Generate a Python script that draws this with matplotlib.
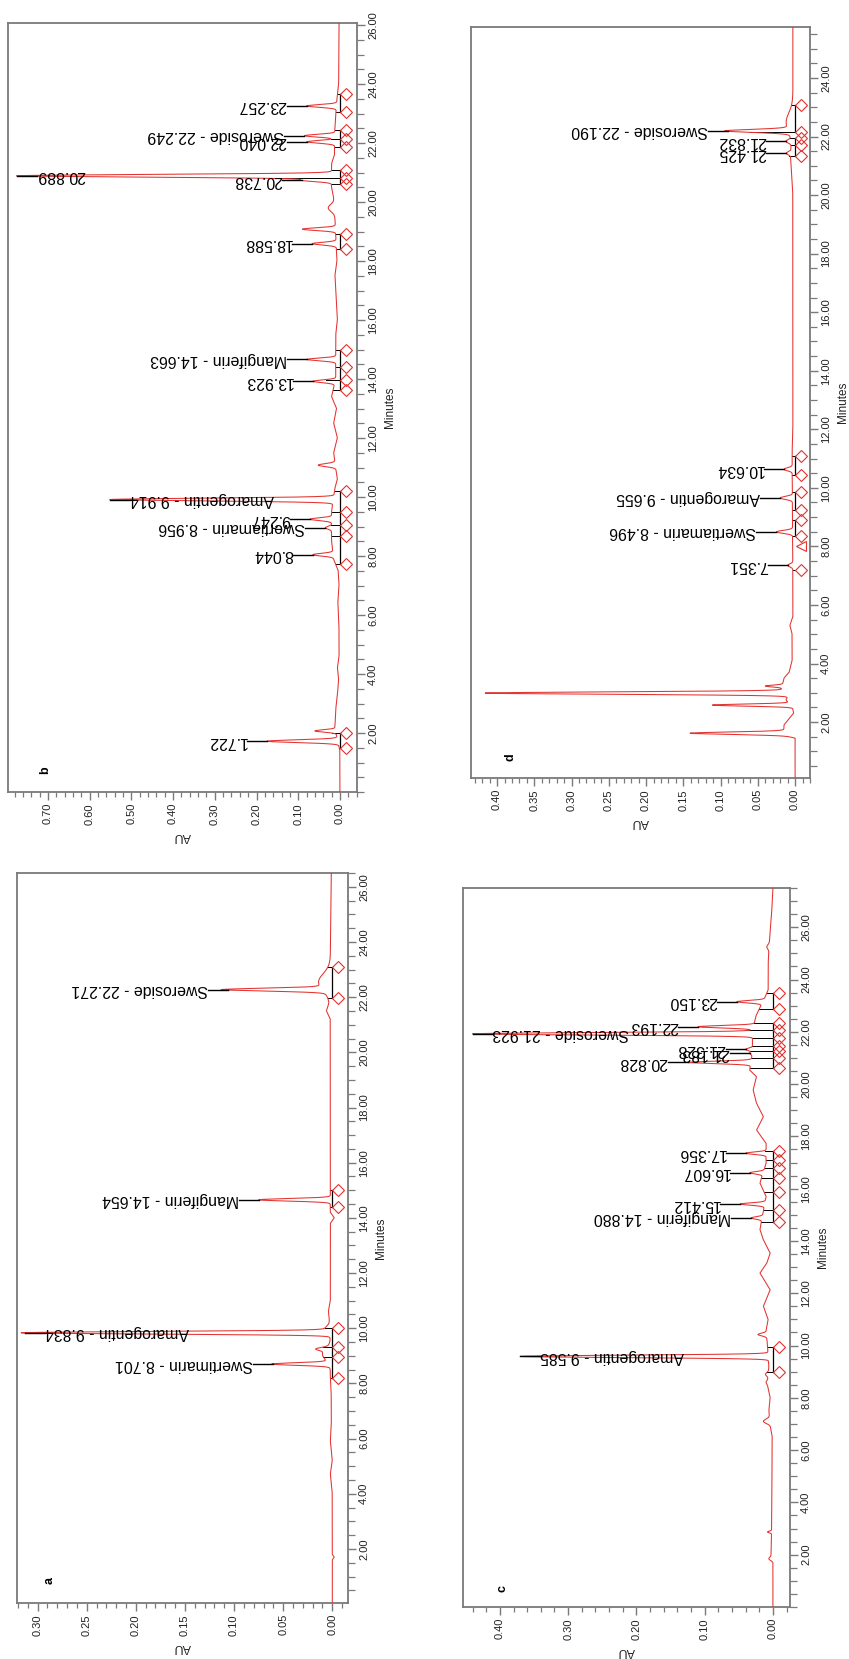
import numpy as np
import matplotlib
matplotlib.use("Agg")
import matplotlib.pyplot as plt
from matplotlib.ticker import MultipleLocator, FixedLocator, FormatStrFormatter
from matplotlib.transforms import ScaledTranslation

plt.rcParams['font.family'] = ['Liberation Sans', 'DejaVu Sans']

# ---------------------------------------------------------------- sample a
a_base_t = [0.0, 1.6, 1.7, 1.8, 4.0, 4.7, 5.2, 5.9, 6.5, 7.5, 8.2, 10.0, 10.6, 11.0,
            13.8, 14.0, 14.2, 21.2, 21.5, 21.8, 22.3, 23.5, 26.5]
a_base_au = [0.0, 0.0, -0.002, 0.0, 0.0, 0.002, 0.0, 0.002, 0.001, 0.001, 0.002, 0.002, 0.004, 0.002,
             0.002, -0.002, 0.002, 0.002, 0.006, 0.003, 0.003, 0.002, 0.001]
a_names = ["Swertimarin", "Amarogentin", "Mangiferin", "Sweroside"]
a_rt = [8.701, 9.834, 14.654, 22.271]
a_top = [0.060, 0.313, 0.075, 0.106]
a_wd = [0.045, 0.045, 0.045, 0.05]
a_extra_rt = [9.25, 9.05, 9.95, 22.55]
a_extra_top = [0.012, 0.010, 0.008, 0.014]
a_extra_wd = [0.05, 0.2, 0.12, 0.3]
a_marks = [[8.20, 8.96, 9.32, 10.00], [14.39, 15.00], [21.96, 23.09]]
a_ends = []

# ---------------------------------------------------------------- sample b
b_base_t = [0.0, 1.4, 2.2, 2.8, 3.3, 3.8, 4.2, 4.6, 5.5, 6.4, 7.0, 7.5, 7.9, 8.5, 9.5, 10.3,
            10.6, 11.5, 12.0, 12.5, 13.0, 13.4, 14.0, 15.5, 16.0, 17.0, 17.5, 18.0, 19.5, 20.0,
            20.5, 21.3, 21.6, 22.5, 23.5, 24.0, 26.1]
b_base_au = [0.0, 0.0, 0.012, 0.010, 0.006, 0.003, 0.006, 0.002, 0.002, 0.005, 0.002, 0.004, 0.015,
             0.020, 0.020, 0.012, 0.006, 0.015, 0.006, 0.015, 0.008, 0.020, 0.010, 0.010, 0.006, 0.010,
             0.012, 0.007, 0.012, 0.013, 0.020, 0.020, 0.013, 0.012, 0.007, 0.003, 0.002]
b_names = ["", "", "Swertiamarin", "", "Amarogentin", "", "Mangiferin", "", "", "", "",
           "Sweroside", ""]
b_rt = [1.722, 8.044, 8.956, 9.247, 9.914, 13.923, 14.663, 18.588, 20.738, 20.889, 22.040,
        22.249, 23.257]
b_top = [0.175, 0.065, 0.035, 0.072, 0.552, 0.065, 0.080, 0.067, 0.090, 0.775, 0.080, 0.085, 0.080]
b_wd = [0.045] * 13
b_extra_rt = [2.07, 11.08, 19.08, 19.8]
b_extra_top = [0.060, 0.052, 0.090, 0.028]
b_extra_wd = [0.04, 0.05, 0.045, 0.12]
b_marks = [[1.50, 2.00], [7.72, 8.68, 9.05, 9.50, 10.20], [13.62, 13.98, 14.40, 14.98],
           [18.40, 18.90], [20.60, 20.80, 21.10], [21.85, 22.15, 22.45], [23.05, 23.65]]
b_ends = []

# ---------------------------------------------------------------- sample c
c_base_t = [0.0, 1.7, 1.8, 2.8, 3.0, 6.5, 6.8, 7.5, 8.0, 8.5, 9.2, 10.0, 10.6, 10.99, 11.5,
            12.13, 12.77, 13.15, 13.53, 14.04, 14.43, 15.0, 15.7, 16.21, 16.97, 17.73, 18.24,
            18.75, 19.26, 19.77, 20.28, 20.53, 21.2, 22.0, 22.6, 23.3, 23.6, 24.6, 25.9, 26.5, 27.5]
c_base_au = [0.0, 0.0, 0.003, 0.002, 0.002, 0.001, 0.003, 0.006, 0.004, 0.008, 0.006, 0.008, 0.010,
             0.007, 0.014, 0.004, 0.019, 0.009, 0.004, 0.014, 0.019, 0.015, 0.010, 0.019, 0.010,
             0.010, 0.024, 0.014, 0.024, 0.029, 0.024, 0.034, 0.030, 0.030, 0.025, 0.012, 0.007,
             0.007, 0.004, 0.002, 0.0]
c_names = ["Amarogentin", "Mangiferin", "", "", "", "", "", "", "Sweroside", "", ""]
c_rt = [9.585, 14.880, 15.412, 16.607, 17.356, 20.828, 21.183, 21.328, 21.923, 22.193, 23.150]
c_top = [0.370, 0.032, 0.048, 0.034, 0.040, 0.125, 0.034, 0.040, 0.440, 0.110, 0.053]
c_wd = [0.045] * 11
c_extra_rt = [10.42, 8.6, 8.9, 7.1, 2.87, 1.85, 25.25]
c_extra_top = [0.022, 0.010, 0.011, 0.014, 0.008, 0.006, 0.009]
c_extra_wd = [0.05, 0.06, 0.06, 0.08, 0.03, 0.05, 0.08]
c_marks = [[8.97, 9.96], [14.73, 15.18, 15.87, 16.40, 16.78, 17.08, 17.46],
           [20.60, 20.98, 21.25, 21.45, 21.75, 22.05, 22.35], [22.87, 23.48]]
c_ends = []

# ---------------------------------------------------------------- sample d
d_base_t = [0.0, 1.45, 1.55, 1.9, 2.3, 2.45, 2.7, 2.85, 3.15, 3.5, 3.7, 4.1, 5.0, 5.3, 5.6,
            7.0, 11.2, 12.0, 20.0, 20.8, 21.2, 22.0, 23.5, 25.8]
d_base_au = [0.0, 0.0, 0.015, 0.015, 0.002, 0.003, 0.008, 0.010, 0.018, 0.015, 0.008, 0.004,
             0.004, 0.007, 0.003, 0.003, 0.004, 0.003, 0.003, 0.005, 0.006, 0.005, 0.003, 0.003]
d_names = ["", "Swertiamarin", "Amarogentin", "", "", "", "Sweroside"]
d_rt = [7.351, 8.496, 9.655, 10.634, 21.425, 21.832, 22.190]
d_top = [0.010, 0.025, 0.020, 0.015, 0.012, 0.012, 0.090]
d_wd = [0.05, 0.05, 0.05, 0.05, 0.05, 0.05, 0.05]
d_extra_rt = [1.62, 2.58, 2.99, 3.23, 2.75, 22.5]
d_extra_top = [0.141, 0.111, 0.416, 0.040, 0.012, 0.012]
d_extra_wd = [0.04, 0.035, 0.04, 0.03, 0.05, 0.3]
d_marks = [[7.20], [8.36, 8.90], [9.25, 9.86], [10.45, 11.10], [21.35, 21.70, 21.95],
           [22.14, 23.06]]
d_ends = [8.02]   # peak end flagged with a triangle

# ---------------------------------------------------------------- figure
W, H, DPI = 849, 1659, 100
fig = plt.figure(figsize=(W / DPI, H / DPI), dpi=DPI, facecolor='white')
renderer = fig.canvas.get_renderer()

RED = '#e3322f'
GREY = '#7a7a7a'


def make_axes(left, top, right, bottom):
    return fig.add_axes([left / W, 1 - bottom / H, (right - left) / W, (bottom - top) / H])


def signal(t, base_t, base_au, rts, tops, wds):
    y = np.interp(t, base_t, base_au)
    for r, top, w in zip(rts, tops, wds):
        amp = top - np.interp(r, base_t, base_au)
        y = y + amp * np.exp(-0.5 * ((t - r) / w) ** 2)
    return y


def draw_panel(ax, letter, letter_xy, au_lim, t_lim, au_major, au_minor,
               base_t, base_au, names, rts, tops, wds, ex_rt, ex_top, ex_wd, marks, ends,
               t_top_major=26):
    au_hi, au_lo = au_lim
    ax.set_xlim(au_hi, au_lo)
    ax.set_ylim(*t_lim)

    all_rt = list(rts) + list(ex_rt)
    all_top = list(tops) + list(ex_top)
    all_wd = list(wds) + list(ex_wd)

    t = np.arange(t_lim[0], t_lim[1], 0.003)
    y = signal(t, base_t, base_au, all_rt, all_top, all_wd)
    ax.plot(y, t, color=RED, lw=0.75, zorder=3)

    # integration baselines, drop lines and peak start/end markers
    shift = ax.transData + ScaledTranslation(6 / DPI, 0, fig.dpi_scale_trans)
    for g in marks:
        gy = signal(np.array(g), base_t, base_au, all_rt, all_top, all_wd)
        if len(g) > 1:
            ax.plot([0, 0], [g[0], g[-1]], color='black', lw=0.9, zorder=2)
        for m, v in zip(g, gy):
            ax.plot([0, v], [m, m], color='black', lw=0.7, zorder=2)
        ax.plot(np.zeros(len(g)), g, linestyle='none', marker='D', ms=6.5, mfc='none',
                mec=RED, mew=0.8, transform=shift, zorder=4, clip_on=False)
    if ends:
        ax.plot(np.zeros(len(ends)), ends, linestyle='none', marker='<', ms=7, mfc='none',
                mec=RED, mew=0.8, transform=shift, zorder=4, clip_on=False)

    # peak labels
    px_per_au = ax.get_window_extent(renderer).width / (au_hi - au_lo)
    lead = 20 / px_per_au
    for name, r, top in zip(names, rts, tops):
        label = f"{name} - {r:.3f}" if name else f"{r:.3f}"
        txt = ax.text(0, r, label, rotation=180, ha='right', va='center', fontsize=11.4,
                      color='black', zorder=5, clip_on=False)
        w_au = txt.get_window_extent(renderer).width / px_per_au
        if top + lead + w_au > au_hi - 0.02 * (au_hi - au_lo):
            start = top - lead - w_au
            ax.plot([top - lead, top], [r, r], color='black', lw=1.0, zorder=4)
        else:
            start = top + lead
            ax.plot([top, start], [r, r], color='black', lw=1.0, zorder=4)
        txt.set_x(start)

    # axes styling
    for sp in ax.spines.values():
        sp.set_color(GREY)
        sp.set_linewidth(1.3)
    ax.xaxis.set_major_locator(FixedLocator(np.arange(0, au_hi + 1e-9, au_major)))
    ax.xaxis.set_minor_locator(MultipleLocator(au_minor))
    ax.xaxis.set_major_formatter(FormatStrFormatter('%.2f'))
    ax.yaxis.tick_right()
    ax.yaxis.set_label_position('right')
    ax.yaxis.set_major_locator(FixedLocator(np.arange(2, t_top_major + 0.01, 2)))
    ax.yaxis.set_minor_locator(MultipleLocator(0.5))
    ax.yaxis.set_major_formatter(FormatStrFormatter('%.2f'))
    ax.tick_params(axis='x', which='major', length=6, width=1.0, color=GREY,
                   labelsize=8, labelrotation=90, labelcolor='#222222', pad=2)
    ax.tick_params(axis='x', which='minor', length=3.5, width=0.9, color=GREY)
    ax.tick_params(axis='y', which='major', length=6, width=1.0, color=GREY,
                   labelsize=8, labelrotation=90, labelcolor='#222222', pad=2)
    ax.tick_params(axis='y', which='minor', length=5, width=0.9, color=GREY)
    for lbl in ax.get_yticklabels():
        lbl.set_va('center')
    ax.set_xlabel('AU', rotation=180, fontsize=9, labelpad=4, color='#222222')
    ax.set_ylabel('Minutes', rotation=90, fontsize=8.5, labelpad=4, color='#222222')

    fig.text(letter_xy[0] / W, 1 - letter_xy[1] / H, letter, rotation=90, fontsize=9,
             fontweight='bold', ha='center', va='center')


ax_b = make_axes(8, 23, 357, 792)
draw_panel(ax_b, 'b', (45, 770), (0.796, -0.041), (0.0, 26.07), 0.10, 0.02,
           b_base_t, b_base_au, b_names, b_rt, b_top, b_wd,
           b_extra_rt, b_extra_top, b_extra_wd, b_marks, b_ends)

ax_d = make_axes(471, 27, 810, 778)
draw_panel(ax_d, 'd', (510, 757), (0.435, -0.020), (0.09, 25.74), 0.05, 0.01,
           d_base_t, d_base_au, d_names, d_rt, d_top, d_wd,
           d_extra_rt, d_extra_top, d_extra_wd, d_marks, d_ends, t_top_major=24)

ax_a = make_axes(17, 873, 348, 1603)
draw_panel(ax_a, 'a', (50, 1580), (0.321, -0.016), (0.04, 26.5), 0.05, 0.01,
           a_base_t, a_base_au, a_names, a_rt, a_top, a_wd,
           a_extra_rt, a_extra_top, a_extra_wd, a_marks, a_ends)

ax_c = make_axes(463, 888, 790, 1607)
draw_panel(ax_c, 'c', (502, 1588), (0.454, -0.025), (0.0, 27.5), 0.10, 0.02,
           c_base_t, c_base_au, c_names, c_rt, c_top, c_wd,
           c_extra_rt, c_extra_top, c_extra_wd, c_marks, c_ends)

fig.savefig('out.png', dpi=DPI, facecolor='white')
